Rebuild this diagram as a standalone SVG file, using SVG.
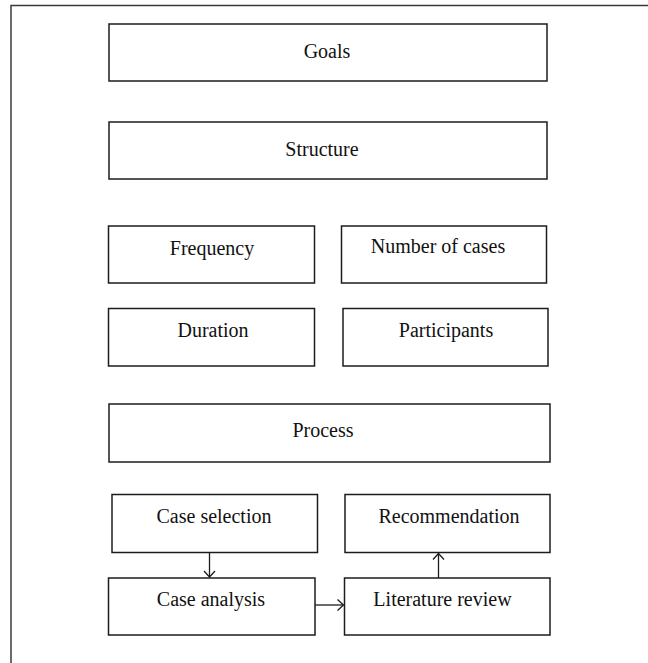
<svg xmlns="http://www.w3.org/2000/svg" width="648" height="663" viewBox="0 0 648 663">
<style>
.box{fill:#fff;stroke:#1c1c1c;stroke-width:1.5}
.lbl{font-family:"Liberation Serif","Times New Roman",serif;font-size:20px;fill:#111;text-anchor:middle}
.frame{fill:none;stroke:#3a3a3a;stroke-width:1.5}
.conn{fill:none;stroke:#1c1c1c;stroke-width:1.3}
</style>
<defs>
<marker id="arr" markerUnits="userSpaceOnUse" markerWidth="14" markerHeight="14" refX="7" refY="7" orient="auto" viewBox="0 0 14 14">
<path d="M1,1.5 L7,7 L1,12.5" fill="none" stroke="#1c1c1c" stroke-width="1.3"/>
</marker>
</defs>
<rect width="648" height="663" fill="#fff"/>
<path class="frame" d="M11,663 L11,5.5 L648,5.5"/>
<g id="goals"><rect class="box" x="109" y="24" width="438" height="57"/><text class="lbl" x="327" y="58">Goals</text></g>
<g id="structure"><rect class="box" x="109" y="122" width="438" height="57"/><text class="lbl" x="322" y="156">Structure</text></g>
<g id="frequency"><rect class="box" x="108.5" y="226" width="206" height="57"/><text class="lbl" x="212" y="255">Frequency</text></g>
<g id="numcases"><rect class="box" x="341.5" y="226" width="205" height="57"/><text class="lbl" x="438" y="253">Number of cases</text></g>
<g id="duration"><rect class="box" x="108.5" y="308.5" width="206" height="57.5"/><text class="lbl" x="213" y="337">Duration</text></g>
<g id="participants"><rect class="box" x="343" y="308.5" width="205" height="57.5"/><text class="lbl" x="446" y="337">Participants</text></g>
<g id="process"><rect class="box" x="109" y="404" width="441" height="58"/><text class="lbl" x="323" y="437">Process</text></g>
<g id="caseselection"><rect class="box" x="112" y="494.5" width="205.5" height="58"/><text class="lbl" x="214" y="523">Case selection</text></g>
<g id="recommendation"><rect class="box" x="345" y="494.5" width="205" height="58"/><text class="lbl" x="449" y="523">Recommendation</text></g>
<g id="caseanalysis"><rect class="box" x="108.5" y="578" width="206.5" height="57"/><text class="lbl" x="211" y="606">Case analysis</text></g>
<g id="literature"><rect class="box" x="344.5" y="578" width="205.5" height="57"/><text class="lbl" x="442.5" y="606">Literature review</text></g>
<g id="connectors">
<line class="conn" x1="209.5" y1="552.5" x2="209.5" y2="577" marker-end="url(#arr)"/>
<line class="conn" x1="315" y1="605" x2="343.5" y2="605" marker-end="url(#arr)"/>
<line class="conn" x1="438.5" y1="578" x2="438.5" y2="553.5" marker-end="url(#arr)"/>
</g>
</svg>
